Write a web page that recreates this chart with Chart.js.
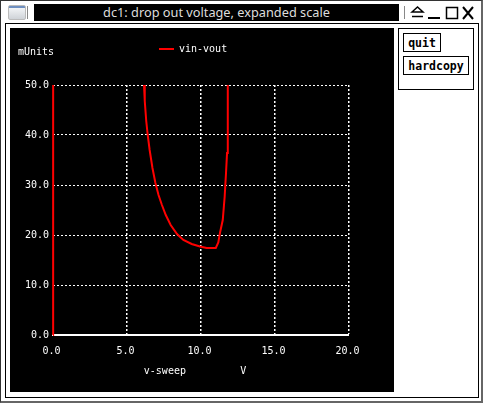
<!DOCTYPE html>
<html>
<head>
<meta charset="utf-8">
<title>dc1</title>
<script src="https://cdn.jsdelivr.net/npm/chart.js@4"></script>
<style>
  html, body { margin: 0; padding: 0; background: #fff; overflow: hidden; }
  #win { position: relative; width: 484px; height: 403px; overflow: hidden; }
  #win div, #win svg, #win canvas { position: absolute; box-sizing: border-box; }
  #frame { left: 5px; top: 23px; width: 474px; height: 375px; border: 1px solid #000; }
  #outer { left: 0; top: 0; width: 483px; height: 403px; border: 1px solid #333; border-bottom: 2px solid #666; border-right: 2px solid #666; }
  #icon { left: 8px; top: 5px; width: 18px; height: 15px; border-radius: 2px; border: 1px solid #bbb;
          background: linear-gradient(#6e8fc0 0, #6e8fc0 2px, #f2f4f6 2px, #cfd3d8 100%); }
  #sep1 { left: 27px; top: 6px; width: 1px; height: 13px; background: #888; }
  #sep2 { left: 404px; top: 6px; width: 1px; height: 13px; background: #888; }
  #titlebar { left: 34px; top: 4px; width: 365px; height: 17px; background: #000; color: #ddd;
              font: 12.75px/17px "Noto Sans", sans-serif; text-align: center; white-space: nowrap; }
  #plot { left: 10px; top: 28px; width: 384px; height: 364px; }
  #side { left: 398px; top: 28px; width: 76px; height: 62px; border: 1px solid #000; }
  .btn { left: 403px; height: 19px; border: 1px solid #000; color: #000; text-align: center;
         font: bold 11.5px/18px "DejaVu Sans Mono", monospace; }
</style>
</head>
<body>
<div id="win">
  <div id="outer"></div>
  <div id="frame"></div>
  <div id="icon"></div>
  <div id="sep1"></div>
  <div id="titlebar">dc1: drop out voltage, expanded scale</div>
  <div id="sep2"></div>
  <svg style="left:410px;top:4px" width="66" height="17" fill="none" stroke="#000">
    <path d="M2 8 L7.5 3 L13 8 Z M2 12.5 H13" stroke-width="1.5"/>
    <path d="M18 14 H30" stroke-width="2"/>
    <rect x="36.5" y="3.5" width="11" height="11" stroke-width="1.5"/>
    <path d="M53 3 L63 15 M63 3 L53 15" stroke-width="2"/>
  </svg>
  <div id="plot"><canvas id="myChart" width="384" height="364"></canvas></div>
  <div id="side"></div>
  <div class="btn" style="top:33px;width:38px">quit</div>
  <div class="btn" style="top:56px;width:66px">hardcopy</div>
</div>
<script>
// the trace runs off the top of the scale between the two 60 values
// second x is 0.01 not 0: chart.js skips leading points that share the axis minimum
const sweepV = [0, 0.01, 6.1,
  6.15, 6.2, 6.3, 6.4, 6.53, 6.72, 6.92, 7.13, 7.36, 7.62, 7.95, 8.38, 8.81, 9.37, 9.93, 10.38, 11.0,
  11.17, 11.28, 11.47, 11.6, 11.69, 11.76, 11.8, 11.82];
const vinVout = [0, 60, 60,
  50, 46.8, 42.8, 40, 37, 33.4, 30.4, 28, 26, 24, 22, 20.2, 19, 18.2, 17.7, 17.4, 17.4,
  18.5, 20.4, 23, 27.7, 32.4, 36.4, 41, 50];
const xTicks = [0, 5, 10, 15, 20];
const yTicks = [0, 10, 20, 30, 40, 50];

const monoFont = { family: '"DejaVu Sans Mono", monospace', size: 10 };

// xgraph style furniture: unit label top left, legend shifted over the plot
const furniture = {
  id: 'furniture',
  afterLayout(chart) {
    chart.legend.left = 139;
    chart.legend.top = 6;
  },
  afterDraw(chart) {
    const ctx = chart.ctx;
    ctx.save();
    ctx.fillStyle = '#fff';
    ctx.font = '10px ' + monoFont.family;
    ctx.textBaseline = 'middle';
    ctx.fillText('mUnits', 8, 24);
    ctx.restore();
  }
};

const myChart = new Chart(document.getElementById('myChart'), {
  type: 'scatter',
  data: {
    datasets: [{
      label: 'vin-vout',
      data: sweepV.map((x, i) => ({ x: x, y: vinVout[i] })),
      showLine: true,
      borderColor: '#ff0000',
      backgroundColor: '#ff0000',
      borderWidth: 2,
      pointRadius: 0,
      tension: 0,
      clip: { left: 2, right: 0, top: 0, bottom: 1 }
    }]
  },
  options: {
    responsive: false,
    animation: false,
    devicePixelRatio: 1,
    layout: { padding: { top: 27, right: 45, left: 0, bottom: 0 } },
    plugins: {
      tooltip: { enabled: false },
      legend: {
        position: 'top',
        align: 'start',
        labels: {
          color: '#fff',
          font: monoFont,
          usePointStyle: true,
          pointStyle: 'line',
          pointStyleWidth: 15,
          boxHeight: 10,
          padding: 10
        }
      }
    },
    scales: {
      x: {
        type: 'linear',
        min: 0,
        max: 20,
        afterBuildTicks: (axis) => { axis.ticks = xTicks.map((v) => ({ value: v })); },
        afterFit: (axis) => { axis.height = 57; },
        grid: { color: '#fff', lineWidth: (c) => (c.tick && c.tick.value === 0 ? 0 : 1.5), drawTicks: false },
        border: { color: '#fff', width: 2, dash: [2, 2] },
        ticks: { color: '#fff', font: monoFont, padding: 10, labelOffset: -1.5, maxRotation: 0, callback: (v) => v.toFixed(1) },
        title: { display: true, text: 'v-sweep         V  ', color: '#fff', font: monoFont, padding: { top: 0, bottom: 15 } }
      },
      y: {
        type: 'linear',
        min: 0,
        max: 50,
        afterBuildTicks: (axis) => { axis.ticks = yTicks.map((v) => ({ value: v })); },
        afterFit: (axis) => { axis.width = 43; },
        grid: { color: '#fff', lineWidth: 1, drawTicks: false },
        border: { display: false, dash: [2, 2] },
        ticks: { color: '#fff', font: monoFont, padding: 4, callback: (v) => v.toFixed(1) }
      }
    }
  },
  plugins: [{
    id: 'blackBackground',
    beforeDraw(chart) {
      chart.ctx.save();
      chart.ctx.fillStyle = '#000';
      chart.ctx.fillRect(0, 0, chart.width, chart.height);
      chart.ctx.restore();
    }
  }, furniture]
});
</script>
</body>
</html>
